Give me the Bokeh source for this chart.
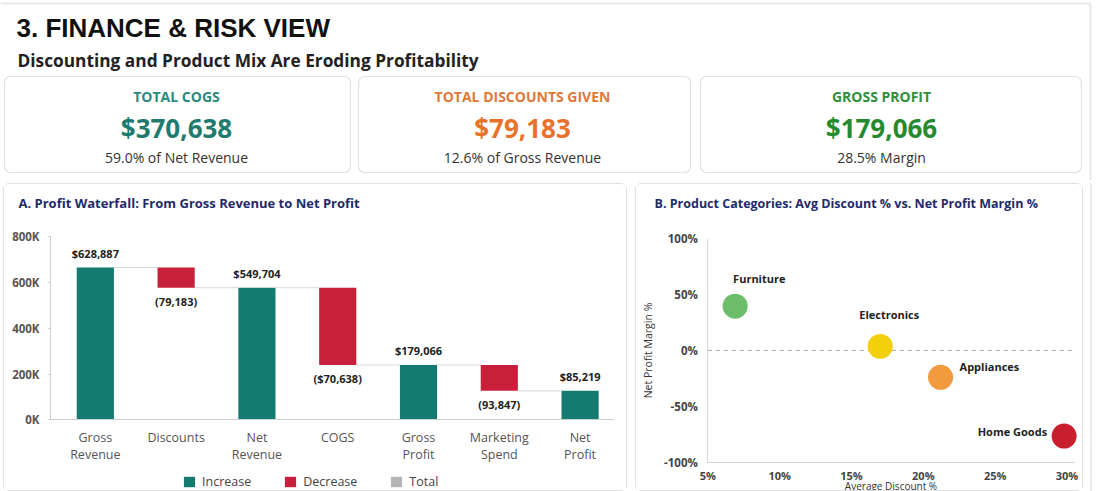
from bokeh.plotting import figure
from bokeh.models import (Range1d, ColumnDataSource, FixedTicker, NumeralTickFormatter,
                          Legend, LegendItem, Spacer, LinearAxis)
from bokeh.core.properties import value
from bokeh.layouts import column, row
from bokeh.embed import file_html
from bokeh.resources import INLINE

# ---------------- data ----------------
page_title = "3. FINANCE & RISK VIEW"
page_subtitle = "Discounting and Product Mix Are Eroding Profitability"

kpi_titles = ["TOTAL COGS", "TOTAL DISCOUNTS GIVEN", "GROSS PROFIT"]
kpi_values = ["$370,638", "$79,183", "$179,066"]
kpi_notes = ["59.0% of Net Revenue", "12.6% of Gross Revenue", "28.5% Margin"]

wf_categories = ["Gross\nRevenue", "Discounts", "Net\nRevenue", "COGS",
                 "Gross\nProfit", "Marketing\nSpend", "Net\nProfit"]
wf_values = [665000, -88000, 577000, -337000, 240000, -113000, 127000]   # bar extents as drawn
wf_kinds = ["total", "decrease", "total", "decrease", "total", "decrease", "total"]
wf_labels = ["$628,887", "(79,183)", "$549,704", "($70,638)", "$179,066", "(93,847)", "$85,219"]
wf_y_ticks = [0, 200000, 400000, 600000, 800000]
wf_y_tick_labels = ["0K", "200K", "400K", "600K", "800K"]

sc_categories = ["Furniture", "Electronics", "Appliances", "Home Goods"]
sc_avg_discount = [0.069, 0.170, 0.212, 0.298]
sc_net_margin = [0.395, 0.036, -0.240, -0.764]
sc_x_ticks = [0.05, 0.10, 0.15, 0.20, 0.25, 0.30]
sc_y_ticks = [-1.0, -0.5, 0.0, 0.5, 1.0]
sc_x_bounds = (0.05, 0.305)

# ---------------- styles ----------------
FONT = "Open Sans"
TEAL = "#157a70"
RED = "#c8203a"
GREY = "#b5b5b5"
NAVY = "#1f2a6c"
kpi_title_colors = ["#2a8a7c", "#e0783a", "#2f8f3a"]
kpi_value_colors = ["#1e7b6e", "#e8722a", "#248a2f"]
kpi_text_x = [176, 522, 881]
card_left = [4, 358, 700]
card_right = [350, 690, 1081]
sc_colors = ["#6cbd6a", "#f4cf0c", "#f29a3e", "#c81e2e"]
sc_label_align = ["left", "left", "left", "right"]
sc_label_dx = [-2, -21, 19, -17]
sc_label_dy = [-28, -32, -11, -5]

# ---------------- top: header + KPI cards ----------------
top = figure(width=1100, height=180, x_range=Range1d(0, 1100), y_range=Range1d(180, 0),
             output_backend="svg", toolbar_location=None, min_border=0,
             x_axis_location=None, y_axis_location=None)
top.grid.visible = False
top.outline_line_color = None
top.background_fill_color = "white"
top.border_fill_color = "white"

top.segment(x0=[0, 1090], y0=[3, 3], x1=[1090, 1090], y1=[3, 180], line_color="#e8e8e8", line_width=2)

top.text(x=[16], y=[27], text=[page_title], text_font=value("Liberation Sans"),
         text_font_size="26px", text_font_style="bold", text_color="#111111",
         text_baseline="middle", text_align="left")
top.text(x=[17], y=[60], text=[page_subtitle], text_font=value(FONT),
         text_font_size="17.3px", text_font_style="bold", text_color="#222222",
         text_baseline="middle", text_align="left")

top.quad(left=card_left, right=card_right, top=[76] * 3, bottom=[172] * 3,
         fill_color="white", line_color="#e2e2e2", line_width=1.2, border_radius=6)

card_src = ColumnDataSource(dict(x=kpi_text_x, t=kpi_titles, v=kpi_values, n=kpi_notes,
                                 tc=kpi_title_colors, vc=kpi_value_colors,
                                 yt=[96] * 3, yv=[127] * 3, yn=[157] * 3))
top.text(x="x", y="yt", text="t", source=card_src, text_color="tc", text_font=value(FONT),
         text_font_size="14px", text_font_style="bold", text_align="center", text_baseline="middle")
top.text(x="x", y="yv", text="v", source=card_src, text_color="vc", text_font=value(FONT),
         text_font_size="26px", text_font_style="bold", text_align="center", text_baseline="middle")
top.text(x="x", y="yn", text="n", source=card_src, text_color="#333333", text_font=value(FONT),
         text_font_size="14px", text_align="center", text_baseline="middle")

# ---------------- waterfall ----------------
BW = 0.46
xs = list(range(len(wf_categories)))
tops, bottoms, levels = [], [], []
running = 0
for v, k in zip(wf_values, wf_kinds):
    if k == "total":
        b, t = 0, v
        running = v
    else:
        t = running
        b = running + v
        running = b
    tops.append(t)
    bottoms.append(b)
    levels.append(running)

# frame spans the whole lower panel; the axes are pinned at 0 / bounded to 0..800K
wf = figure(width=624, height=308, x_range=Range1d(-0.555, 6.426),
            y_range=Range1d(-316484, 861538),
            output_backend="svg", toolbar_location=None, frame_align=False,
            x_axis_location=None,
            min_border_left=46, min_border_right=14, min_border_top=38, min_border_bottom=0,
            margin=(3, 0, 0, 3),
            styles={"border": "1px solid #e2e2e2", "border-radius": "6px"})
wf.grid.visible = False
wf.outline_line_color = None
wf.background_fill_color = "white"
wf.border_fill_color = "white"

wf.title.text = "A. Profit Waterfall: From Gross Revenue to Net Profit"
wf.title.text_font = FONT
wf.title.text_font_size = "13px"
wf.title.text_font_style = "bold"
wf.title.text_color = NAVY
wf.title.align = "left"
wf.title.vertical_align = "top"
wf.title.offset = -32
wf.title.standoff = 17

inc_idx = [i for i, k in enumerate(wf_kinds) if k == "total"]
dec_idx = [i for i, k in enumerate(wf_kinds) if k == "decrease"]
inc_src = ColumnDataSource(dict(x=[xs[i] for i in inc_idx], top=[tops[i] for i in inc_idx],
                                bottom=[bottoms[i] for i in inc_idx]))
dec_src = ColumnDataSource(dict(x=[xs[i] for i in dec_idx], top=[tops[i] for i in dec_idx],
                                bottom=[bottoms[i] for i in dec_idx]))
# "Total" has no bar of its own in this chart: a zero-height entry only feeds the legend swatch
tot_src = ColumnDataSource(dict(x=[xs[0]], top=[0], bottom=[0]))

# connectors
wf.segment(x0=[x + BW / 2 for x in xs[:-1]], x1=[x + 1 - BW / 2 for x in xs[:-1]],
           y0=levels[:-1], y1=levels[:-1], line_color="#d9d9d9", line_width=1)

r_inc = wf.vbar(x="x", top="top", bottom="bottom", width=BW, source=inc_src,
                fill_color=TEAL, line_color=None)
r_dec = wf.vbar(x="x", top="top", bottom="bottom", width=BW, source=dec_src,
                fill_color=RED, line_color=None)
r_tot = wf.vbar(x="x", top="top", bottom="bottom", width=BW, source=tot_src,
                fill_color=GREY, line_color=None)

lab_y = [tops[i] if wf_kinds[i] == "total" else bottoms[i] for i in xs]
lab_off = [-14 if k == "total" else 14 for k in wf_kinds]
wf.text(x=xs, y=lab_y, text=wf_labels, y_offset=lab_off, text_font=value(FONT),
        text_font_size="11px", text_font_style="bold", text_color="#222222",
        text_align="center", text_baseline="middle")

wf.yaxis.ticker = FixedTicker(ticks=wf_y_ticks)
wf.yaxis.bounds = (wf_y_ticks[0], wf_y_ticks[-1])
wf.yaxis.major_label_overrides = {t: l for t, l in zip(wf_y_ticks, wf_y_tick_labels)}
wf.yaxis.axis_line_color = "#cfcfcf"
wf.yaxis.minor_tick_line_color = None
wf.yaxis.major_tick_line_color = "#cfcfcf"
wf.yaxis.major_tick_out = 3
wf.yaxis.major_tick_in = 0
wf.yaxis.major_label_standoff = 8
wf.yaxis.major_label_text_font = FONT
wf.yaxis.major_label_text_font_size = "11.5px"
wf.yaxis.major_label_text_font_style = "bold"
wf.yaxis.major_label_text_color = "#555555"

wf_xaxis = LinearAxis(fixed_location=0, ticker=FixedTicker(ticks=xs),
                      major_label_overrides={i: c for i, c in zip(xs, wf_categories)},
                      axis_line_color="#cfcfcf", major_tick_line_color=None,
                      minor_tick_line_color=None, major_tick_out=0, major_tick_in=0,
                      major_label_standoff=9, major_label_text_font=FONT,
                      major_label_text_font_size="12.5px", major_label_text_color="#555555",
                      major_label_text_line_height=1.0)
wf.add_layout(wf_xaxis, "below")

legend = Legend(items=[LegendItem(label="Increase", renderers=[r_inc]),
                       LegendItem(label="Decrease", renderers=[r_dec]),
                       LegendItem(label="Total", renderers=[r_tot])],
                location=(132, 2), orientation="horizontal", padding=0, margin=0,
                spacing=32, glyph_height=13, glyph_width=14, label_height=13,
                label_standoff=6, label_text_font=FONT, label_text_font_size="12.5px",
                label_text_color="#444444", border_line_color=None,
                background_fill_alpha=0)
wf.add_layout(legend)

# ---------------- scatter ----------------
# frame fills the panel; both axes are pinned at the corner (5%, -100%)
sc = figure(width=448, height=308, x_range=Range1d(0.00035, 0.3122), y_range=Range1d(-1.267, 1.123),
            output_backend="svg", toolbar_location=None, frame_align=False,
            x_axis_location=None, y_axis_location=None,
            min_border_left=0, min_border_right=0, min_border_top=40, min_border_bottom=0,
            margin=(3, 0, 0, 8),
            styles={"border": "1px solid #e2e2e2", "border-radius": "6px"})
sc.grid.visible = False
sc.outline_line_color = None
sc.background_fill_color = "white"
sc.border_fill_color = "white"

sc.title.text = "B. Product Categories: Avg Discount % vs. Net Profit Margin %"
sc.title.text_font = FONT
sc.title.text_font_size = "12.5px"
sc.title.text_font_style = "bold"
sc.title.text_color = NAVY
sc.title.align = "left"
sc.title.vertical_align = "top"
sc.title.offset = 18
sc.title.standoff = 21

sc.segment(x0=[sc_x_bounds[0]], x1=[sc_x_bounds[1]], y0=[0], y1=[0],
           line_color="#a8a8a8", line_dash="4 4", line_width=1)

sc_src = ColumnDataSource(dict(x=sc_avg_discount, y=sc_net_margin, name=sc_categories,
                               color=sc_colors, align=sc_label_align,
                               dx=sc_label_dx, dy=sc_label_dy))
sc.scatter(x="x", y="y", size=25, fill_color="color", line_color=None, source=sc_src)
sc.text(x="x", y="y", text="name", x_offset="dx", y_offset="dy", text_align="align",
        text_baseline="middle", text_font=value(FONT), text_font_size="11px",
        text_font_style="bold", text_color="#222222", source=sc_src)

sc_xaxis = LinearAxis(fixed_location=sc_y_ticks[0], ticker=FixedTicker(ticks=sc_x_ticks),
                      formatter=NumeralTickFormatter(format="0%"), bounds=sc_x_bounds)
sc_yaxis = LinearAxis(fixed_location=sc_x_bounds[0], ticker=FixedTicker(ticks=sc_y_ticks),
                      formatter=NumeralTickFormatter(format="0%"),
                      bounds=(sc_y_ticks[0], sc_y_ticks[-1]))
sc.add_layout(sc_xaxis, "below")
sc.add_layout(sc_yaxis, "left")
for ax in (sc_xaxis, sc_yaxis):
    ax.axis_line_color = "#d6d6d6"
    ax.major_tick_line_color = None
    ax.major_tick_out = 0
    ax.major_tick_in = 0
    ax.minor_tick_line_color = None
    ax.major_label_text_font = FONT
    ax.major_label_text_font_style = "bold"
    ax.major_label_text_color = "#444444"
    ax.axis_label_text_font = FONT
    ax.axis_label_text_font_style = "normal"
    ax.axis_label_text_color = "#333333"
sc_yaxis.major_label_text_font_size = "11.5px"
sc_xaxis.major_label_text_font_size = "11px"
sc_yaxis.major_label_standoff = 10
sc_xaxis.major_label_standoff = 5
sc_yaxis.axis_label = "Net Profit Margin %"
sc_yaxis.axis_label_text_font_size = "10.5px"
sc_yaxis.axis_label_standoff = 6
sc_xaxis.axis_label = "Average Discount %"
sc_xaxis.axis_label_text_font_size = "10px"
sc_xaxis.axis_label_standoff = -7

edge = Spacer(width=2, height=308, margin=(3, 0, 0, 7), styles={"background-color": "#ebebeb"})

root = column(top, row(wf, sc, edge))

open("out.html", "w").write(file_html(root, INLINE))
